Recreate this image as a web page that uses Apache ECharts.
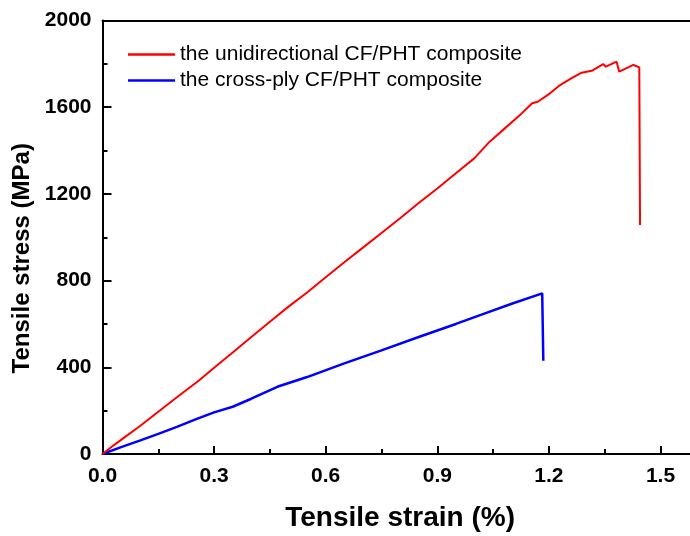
<!DOCTYPE html>
<html>
<head>
<meta charset="utf-8">
<script src="https://cdn.jsdelivr.net/npm/echarts@6/dist/echarts.min.js"></script>
<style>
html,body{margin:0;padding:0;background:#fff;}
#c{width:690px;height:536px;}
</style>
</head>
<body>
<div id="c"></div>
<script>
const seriesNames = ['the unidirectional CF/PHT composite', 'the cross-ply CF/PHT composite'];
const redStrain = [0, 0.03, 0.06, 0.1, 0.15, 0.2, 0.26, 0.3, 0.35, 0.4, 0.45, 0.5, 0.55, 0.6, 0.65, 0.7, 0.75, 0.8, 0.85, 0.9, 0.95, 1.0, 1.04, 1.08, 1.12, 1.155, 1.17, 1.2, 1.23, 1.26, 1.288, 1.315, 1.346, 1.353, 1.382, 1.389, 1.427, 1.434, 1.443, 1.445];
const redStress = [0, 40, 78, 128, 195, 262, 340, 398, 468, 540, 610, 680, 745, 815, 885, 952, 1020, 1088, 1158, 1225, 1295, 1365, 1440, 1500, 1560, 1618, 1625, 1660, 1702, 1733, 1759, 1768, 1799, 1787, 1810, 1764, 1795, 1790, 1784, 1057];
const blueStrain = [0, 0.05, 0.1, 0.15, 0.2, 0.25, 0.3, 0.35, 0.4, 0.47, 0.55, 0.65, 0.75, 0.85, 0.95, 1.03, 1.1, 1.182, 1.185];
const blueStress = [0, 32, 62, 93, 125, 160, 192, 218, 255, 310, 355, 418, 478, 540, 600, 650, 693, 741, 430];
const xTicks = [0.0, 0.3, 0.6, 0.9, 1.2, 1.5];
const yTicks = [0, 400, 800, 1200, 1600, 2000];

const FONT = 'Arial, "Liberation Sans", sans-serif';
const pair = (xs, ys) => xs.map((x, i) => [x, ys[i]]);

const chart = echarts.init(document.getElementById('c'), null, {renderer: 'canvas'});
chart.setOption({
  animation: false,
  backgroundColor: '#fff',
  grid: {left: 102.5, top: 20.5, width: 595.2, height: 433.5, containLabel: false, outerBoundsMode: 'none'},
  legend: {
    orient: 'vertical', left: 123, top: 39, itemWidth: 47, itemHeight: 2.5, itemGap: 5,
    icon: 'rect',
    textStyle: {fontFamily: FONT, fontSize: 21, color: '#000'},
    data: seriesNames
  },
  xAxis: [{
    type: 'value', min: 0, max: 1.6, interval: 0.3,
    name: 'Tensile strain (%)', nameLocation: 'middle', nameGap: 50,
    nameTextStyle: {fontFamily: FONT, fontSize: 28, fontWeight: 'bold', color: '#000'},
    axisLine: {show: true, onZero: false, lineStyle: {color: '#000', width: 2}},
    axisTick: {show: true, inside: true, length: 8, customValues: xTicks, lineStyle: {color: '#000', width: 2}},
    minorTick: {show: true, splitNumber: 2, length: 5, lineStyle: {color: '#000', width: 2}},
    splitLine: {show: false},
    axisLabel: {
      fontFamily: FONT, fontSize: 21, fontWeight: 'bold', color: '#000', margin: 12,
      customValues: xTicks, formatter: v => v.toFixed(1)
    }
  }, {
    type: 'value', position: 'top', min: 0, max: 1.6,
    axisLine: {show: true, onZero: false, lineStyle: {color: '#000', width: 2}},
    axisTick: {show: false}, axisLabel: {show: false}, splitLine: {show: false}
  }],
  yAxis: [{
    type: 'value', min: yTicks[0], max: yTicks[yTicks.length - 1], interval: 400,
    name: 'Tensile stress (MPa)', nameLocation: 'middle', nameGap: 53, nameRotate: 90,
    nameTextStyle: {fontFamily: FONT, fontSize: 24, fontWeight: 'bold', color: '#000', padding: [0, 42, 0, 0]},
    axisLine: {show: true, onZero: false, lineStyle: {color: '#000', width: 2}},
    axisTick: {show: true, inside: true, length: 9, lineStyle: {color: '#000', width: 2}},
    minorTick: {show: true, splitNumber: 2, length: 5, lineStyle: {color: '#000', width: 2}},
    splitLine: {show: false},
    axisLabel: {
      fontFamily: FONT, fontSize: 21, fontWeight: 'bold', color: '#000', margin: 11,
      formatter: v => String(v)
    }
  }],
  series: [{
    name: seriesNames[0], type: 'line', data: pair(redStrain, redStress),
    showSymbol: false, symbol: 'none', color: '#ff0000',
    lineStyle: {color: '#ff0000', width: 2}, z: 3
  }, {
    name: seriesNames[1], type: 'line', data: pair(blueStrain, blueStress),
    showSymbol: false, symbol: 'none', color: '#0000ff',
    lineStyle: {color: '#0000ff', width: 2.5}, z: 2
  }]
});
</script>
</body>
</html>
